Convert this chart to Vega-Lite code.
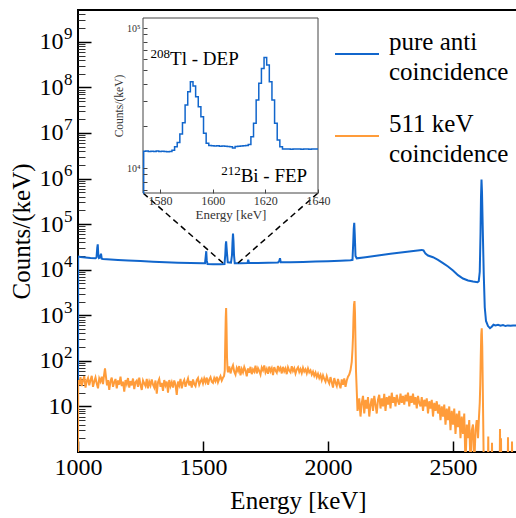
{
  "$schema": "https://vega.github.io/schema/vega-lite/v6.json",
  "width": 440,
  "height": 442,
  "autosize": {"type": "none"},
  "padding": {"left": 78, "top": 10, "right": 0, "bottom": 66},
  "background": "white",
  "config": {
    "font": "Liberation Serif",
    "view": {"stroke": "black", "strokeWidth": 2},
    "style": {"guide-label": {"lineHeight": 30}},
    "axis": {
      "grid": false,
      "domain": false,
      "labelFont": "Liberation Serif",
      "titleFont": "Liberation Serif",
      "labelColor": "black",
      "titleColor": "black",
      "titleFontWeight": "normal",
      "labelOverlap": false,
      "labelFlush": false,
      "tickColor": "black"
    },
    "text": {"font": "Liberation Serif"}
  },
  "datasets": {
    "blue": [
      {"e": 1000, "c": 0.5}, {"e": 1000.5, "c": 19500}, {"e": 1010, "c": 19000}, {"e": 1030, "c": 18500},
      {"e": 1050, "c": 18000}, {"e": 1070, "c": 17800}, {"e": 1074, "c": 18500}, {"e": 1077, "c": 30000},
      {"e": 1079, "c": 36000}, {"e": 1081, "c": 22000}, {"e": 1084, "c": 18000}, {"e": 1088, "c": 18500},
      {"e": 1092, "c": 22500}, {"e": 1095, "c": 17500}, {"e": 1100, "c": 17200}, {"e": 1130, "c": 16700},
      {"e": 1160, "c": 16300}, {"e": 1200, "c": 15900}, {"e": 1250, "c": 15500}, {"e": 1300, "c": 15000},
      {"e": 1350, "c": 14600}, {"e": 1400, "c": 14300}, {"e": 1450, "c": 14000}, {"e": 1500, "c": 13800},
      {"e": 1508, "c": 13800}, {"e": 1511, "c": 20000}, {"e": 1513, "c": 25500}, {"e": 1515, "c": 16000},
      {"e": 1518, "c": 13400}, {"e": 1540, "c": 13200}, {"e": 1570, "c": 13200}, {"e": 1586, "c": 13300},
      {"e": 1589, "c": 21000}, {"e": 1591, "c": 35000}, {"e": 1592.5, "c": 42000}, {"e": 1594, "c": 32000},
      {"e": 1596, "c": 23000}, {"e": 1599, "c": 14500}, {"e": 1612, "c": 14300}, {"e": 1616, "c": 21000},
      {"e": 1618, "c": 40000}, {"e": 1620, "c": 62000}, {"e": 1622, "c": 42000}, {"e": 1624, "c": 21000},
      {"e": 1627, "c": 13900}, {"e": 1650, "c": 13900}, {"e": 1678, "c": 14000}, {"e": 1681, "c": 16500},
      {"e": 1684, "c": 14100}, {"e": 1720, "c": 14100}, {"e": 1760, "c": 14200}, {"e": 1800, "c": 14400},
      {"e": 1805, "c": 15500}, {"e": 1808, "c": 17800}, {"e": 1811, "c": 14500}, {"e": 1850, "c": 14600},
      {"e": 1900, "c": 14800}, {"e": 1950, "c": 15100}, {"e": 2000, "c": 15400}, {"e": 2050, "c": 15800},
      {"e": 2090, "c": 16200}, {"e": 2098, "c": 16500}, {"e": 2101, "c": 40000}, {"e": 2103, "c": 80000},
      {"e": 2105, "c": 107000}, {"e": 2107, "c": 60000}, {"e": 2110, "c": 20000}, {"e": 2115, "c": 17800},
      {"e": 2150, "c": 18800}, {"e": 2200, "c": 20500}, {"e": 2250, "c": 22300}, {"e": 2300, "c": 24200},
      {"e": 2350, "c": 26200}, {"e": 2375, "c": 27200}, {"e": 2382, "c": 26500}, {"e": 2390, "c": 22500},
      {"e": 2400, "c": 20500}, {"e": 2420, "c": 18800}, {"e": 2440, "c": 16500}, {"e": 2460, "c": 14000},
      {"e": 2480, "c": 11800}, {"e": 2500, "c": 9600}, {"e": 2520, "c": 7600}, {"e": 2540, "c": 6400},
      {"e": 2560, "c": 5800}, {"e": 2580, "c": 5500}, {"e": 2598, "c": 5300}, {"e": 2603, "c": 5600},
      {"e": 2607, "c": 9000}, {"e": 2610, "c": 60000}, {"e": 2612, "c": 400000}, {"e": 2614, "c": 950000},
      {"e": 2616, "c": 500000}, {"e": 2619, "c": 80000}, {"e": 2623, "c": 8000}, {"e": 2627, "c": 1500},
      {"e": 2632, "c": 750}, {"e": 2640, "c": 580}, {"e": 2648, "c": 520}, {"e": 2655, "c": 560},
      {"e": 2662, "c": 620}, {"e": 2670, "c": 600}, {"e": 2680, "c": 620}, {"e": 2690, "c": 590},
      {"e": 2700, "c": 610}, {"e": 2710, "c": 580}, {"e": 2720, "c": 600}, {"e": 2730, "c": 590},
      {"e": 2740, "c": 600}, {"e": 2760, "c": 590}
    ],
    "orange": [
      {"e": 1000, "c": 0.5}, {"e": 1000.5, "c": 38}, {"e": 1005, "c": 30}, {"e": 1010, "c": 44}, {"e": 1015, "c": 28},
      {"e": 1020, "c": 37}, {"e": 1025, "c": 46}, {"e": 1030, "c": 26}, {"e": 1035, "c": 36}, {"e": 1040, "c": 42},
      {"e": 1045, "c": 29}, {"e": 1050, "c": 38}, {"e": 1055, "c": 47}, {"e": 1060, "c": 27}, {"e": 1065, "c": 35},
      {"e": 1070, "c": 43}, {"e": 1075, "c": 32}, {"e": 1080, "c": 25}, {"e": 1085, "c": 41}, {"e": 1090, "c": 35},
      {"e": 1095, "c": 45}, {"e": 1100, "c": 31}, {"e": 1104, "c": 48}, {"e": 1108, "c": 68}, {"e": 1112, "c": 44},
      {"e": 1116, "c": 29}, {"e": 1120, "c": 38}, {"e": 1125, "c": 23}, {"e": 1130, "c": 36}, {"e": 1135, "c": 43},
      {"e": 1140, "c": 27}, {"e": 1145, "c": 34}, {"e": 1150, "c": 40}, {"e": 1155, "c": 25}, {"e": 1160, "c": 37},
      {"e": 1165, "c": 30}, {"e": 1170, "c": 45}, {"e": 1175, "c": 28}, {"e": 1180, "c": 35}, {"e": 1185, "c": 21},
      {"e": 1190, "c": 38}, {"e": 1195, "c": 31}, {"e": 1200, "c": 42}, {"e": 1205, "c": 26}, {"e": 1210, "c": 36},
      {"e": 1215, "c": 29}, {"e": 1220, "c": 41}, {"e": 1225, "c": 24}, {"e": 1230, "c": 34}, {"e": 1235, "c": 37},
      {"e": 1240, "c": 27}, {"e": 1245, "c": 43}, {"e": 1250, "c": 30}, {"e": 1255, "c": 23}, {"e": 1260, "c": 37},
      {"e": 1265, "c": 32}, {"e": 1270, "c": 28}, {"e": 1275, "c": 40}, {"e": 1280, "c": 25}, {"e": 1285, "c": 35},
      {"e": 1290, "c": 29}, {"e": 1295, "c": 39}, {"e": 1300, "c": 30}, {"e": 1305, "c": 26}, {"e": 1310, "c": 37},
      {"e": 1315, "c": 19}, {"e": 1320, "c": 34}, {"e": 1325, "c": 40}, {"e": 1330, "c": 27}, {"e": 1335, "c": 33},
      {"e": 1340, "c": 22}, {"e": 1345, "c": 38}, {"e": 1350, "c": 29}, {"e": 1355, "c": 35}, {"e": 1360, "c": 20},
      {"e": 1365, "c": 38}, {"e": 1370, "c": 28}, {"e": 1375, "c": 34}, {"e": 1380, "c": 26}, {"e": 1385, "c": 37},
      {"e": 1390, "c": 30}, {"e": 1395, "c": 18}, {"e": 1400, "c": 35}, {"e": 1405, "c": 29}, {"e": 1410, "c": 40},
      {"e": 1415, "c": 25}, {"e": 1420, "c": 33}, {"e": 1425, "c": 38}, {"e": 1430, "c": 27}, {"e": 1435, "c": 34},
      {"e": 1440, "c": 41}, {"e": 1445, "c": 29}, {"e": 1450, "c": 36}, {"e": 1455, "c": 26}, {"e": 1460, "c": 39},
      {"e": 1465, "c": 31}, {"e": 1470, "c": 28}, {"e": 1475, "c": 38}, {"e": 1480, "c": 42}, {"e": 1485, "c": 30},
      {"e": 1490, "c": 35}, {"e": 1495, "c": 40}, {"e": 1500, "c": 32}, {"e": 1505, "c": 41}, {"e": 1510, "c": 34},
      {"e": 1515, "c": 43}, {"e": 1520, "c": 30}, {"e": 1525, "c": 39}, {"e": 1530, "c": 44}, {"e": 1535, "c": 35},
      {"e": 1540, "c": 33}, {"e": 1545, "c": 42}, {"e": 1550, "c": 36}, {"e": 1555, "c": 45}, {"e": 1560, "c": 34},
      {"e": 1565, "c": 40}, {"e": 1570, "c": 46}, {"e": 1575, "c": 37}, {"e": 1580, "c": 43}, {"e": 1584, "c": 46},
      {"e": 1587, "c": 60}, {"e": 1589, "c": 250}, {"e": 1591, "c": 900}, {"e": 1592.5, "c": 1450}, {"e": 1594, "c": 600},
      {"e": 1596, "c": 120}, {"e": 1598, "c": 66}, {"e": 1600, "c": 56}, {"e": 1605, "c": 75}, {"e": 1610, "c": 53},
      {"e": 1615, "c": 68}, {"e": 1620, "c": 80}, {"e": 1625, "c": 58}, {"e": 1630, "c": 50}, {"e": 1635, "c": 70},
      {"e": 1640, "c": 60}, {"e": 1645, "c": 77}, {"e": 1650, "c": 48}, {"e": 1655, "c": 66}, {"e": 1660, "c": 56},
      {"e": 1665, "c": 73}, {"e": 1670, "c": 61}, {"e": 1675, "c": 46}, {"e": 1680, "c": 68}, {"e": 1685, "c": 55},
      {"e": 1690, "c": 74}, {"e": 1695, "c": 51}, {"e": 1700, "c": 65}, {"e": 1705, "c": 58}, {"e": 1710, "c": 78},
      {"e": 1715, "c": 53}, {"e": 1720, "c": 69}, {"e": 1725, "c": 60}, {"e": 1730, "c": 50}, {"e": 1735, "c": 71},
      {"e": 1740, "c": 62}, {"e": 1745, "c": 79}, {"e": 1750, "c": 56}, {"e": 1755, "c": 66}, {"e": 1760, "c": 52},
      {"e": 1765, "c": 75}, {"e": 1770, "c": 59}, {"e": 1775, "c": 69}, {"e": 1780, "c": 49}, {"e": 1785, "c": 73},
      {"e": 1790, "c": 61}, {"e": 1795, "c": 55}, {"e": 1800, "c": 77}, {"e": 1805, "c": 62}, {"e": 1810, "c": 70},
      {"e": 1815, "c": 53}, {"e": 1820, "c": 74}, {"e": 1825, "c": 59}, {"e": 1830, "c": 68}, {"e": 1835, "c": 51},
      {"e": 1840, "c": 72}, {"e": 1845, "c": 61}, {"e": 1850, "c": 56}, {"e": 1855, "c": 76}, {"e": 1860, "c": 60},
      {"e": 1865, "c": 69}, {"e": 1870, "c": 53}, {"e": 1875, "c": 65}, {"e": 1880, "c": 72}, {"e": 1885, "c": 57},
      {"e": 1890, "c": 66}, {"e": 1895, "c": 54}, {"e": 1900, "c": 70}, {"e": 1905, "c": 58}, {"e": 1910, "c": 65},
      {"e": 1915, "c": 53}, {"e": 1920, "c": 68}, {"e": 1925, "c": 56}, {"e": 1930, "c": 62}, {"e": 1935, "c": 50},
      {"e": 1940, "c": 58}, {"e": 1945, "c": 47}, {"e": 1950, "c": 55}, {"e": 1955, "c": 44}, {"e": 1960, "c": 52},
      {"e": 1965, "c": 42}, {"e": 1970, "c": 49}, {"e": 1975, "c": 38}, {"e": 1980, "c": 48}, {"e": 1985, "c": 40},
      {"e": 1990, "c": 35}, {"e": 1995, "c": 46}, {"e": 2000, "c": 37}, {"e": 2005, "c": 32}, {"e": 2010, "c": 44},
      {"e": 2015, "c": 34}, {"e": 2020, "c": 26}, {"e": 2025, "c": 42}, {"e": 2030, "c": 33}, {"e": 2035, "c": 28},
      {"e": 2040, "c": 40}, {"e": 2045, "c": 31}, {"e": 2050, "c": 25}, {"e": 2055, "c": 39}, {"e": 2060, "c": 30},
      {"e": 2065, "c": 41}, {"e": 2070, "c": 27}, {"e": 2075, "c": 37}, {"e": 2080, "c": 45}, {"e": 2085, "c": 50},
      {"e": 2090, "c": 62}, {"e": 2095, "c": 95}, {"e": 2098, "c": 180}, {"e": 2100, "c": 330}, {"e": 2102, "c": 900},
      {"e": 2104, "c": 1700}, {"e": 2106, "c": 2050}, {"e": 2108, "c": 1100}, {"e": 2110, "c": 250}, {"e": 2112, "c": 60},
      {"e": 2115, "c": 22}, {"e": 2118, "c": 8}, {"e": 2120, "c": 9}, {"e": 2125, "c": 15}, {"e": 2130, "c": 6},
      {"e": 2135, "c": 12}, {"e": 2140, "c": 17}, {"e": 2145, "c": 7}, {"e": 2150, "c": 14}, {"e": 2155, "c": 9},
      {"e": 2160, "c": 16}, {"e": 2165, "c": 6}, {"e": 2170, "c": 11}, {"e": 2175, "c": 15}, {"e": 2180, "c": 8},
      {"e": 2185, "c": 17}, {"e": 2190, "c": 11}, {"e": 2195, "c": 7}, {"e": 2200, "c": 14}, {"e": 2205, "c": 18},
      {"e": 2210, "c": 9}, {"e": 2215, "c": 15}, {"e": 2220, "c": 10}, {"e": 2225, "c": 19}, {"e": 2230, "c": 8},
      {"e": 2235, "c": 16}, {"e": 2240, "c": 11}, {"e": 2245, "c": 17}, {"e": 2250, "c": 9}, {"e": 2255, "c": 20},
      {"e": 2260, "c": 12}, {"e": 2265, "c": 16}, {"e": 2270, "c": 10}, {"e": 2275, "c": 18}, {"e": 2280, "c": 13},
      {"e": 2285, "c": 11}, {"e": 2290, "c": 19}, {"e": 2295, "c": 12}, {"e": 2300, "c": 17}, {"e": 2305, "c": 11},
      {"e": 2310, "c": 18}, {"e": 2315, "c": 13}, {"e": 2320, "c": 20}, {"e": 2325, "c": 10}, {"e": 2330, "c": 17},
      {"e": 2335, "c": 12}, {"e": 2340, "c": 19}, {"e": 2345, "c": 11}, {"e": 2350, "c": 16}, {"e": 2355, "c": 9},
      {"e": 2360, "c": 17}, {"e": 2365, "c": 12}, {"e": 2370, "c": 10}, {"e": 2375, "c": 16}, {"e": 2380, "c": 8},
      {"e": 2385, "c": 14}, {"e": 2390, "c": 10}, {"e": 2395, "c": 15}, {"e": 2400, "c": 7}, {"e": 2405, "c": 13},
      {"e": 2410, "c": 9}, {"e": 2415, "c": 14}, {"e": 2420, "c": 6}, {"e": 2425, "c": 12}, {"e": 2430, "c": 8},
      {"e": 2435, "c": 13}, {"e": 2440, "c": 7}, {"e": 2445, "c": 11}, {"e": 2450, "c": 5}, {"e": 2455, "c": 10},
      {"e": 2460, "c": 6}, {"e": 2465, "c": 11}, {"e": 2470, "c": 4}, {"e": 2475, "c": 9}, {"e": 2480, "c": 5},
      {"e": 2485, "c": 10}, {"e": 2490, "c": 3}, {"e": 2495, "c": 8}, {"e": 2500, "c": 4}, {"e": 2505, "c": 9},
      {"e": 2510, "c": 2.5}, {"e": 2515, "c": 7}, {"e": 2520, "c": 3.5}, {"e": 2525, "c": 8}, {"e": 2530, "c": 2},
      {"e": 2535, "c": 6}, {"e": 2540, "c": 2.5}, {"e": 2545, "c": 7}, {"e": 2550, "c": 0.5}, {"e": 2555, "c": 4},
      {"e": 2560, "c": 2}, {"e": 2565, "c": 5}, {"e": 2570, "c": 0.5}, {"e": 2575, "c": 3}, {"e": 2580, "c": 4},
      {"e": 2585, "c": 0.5}, {"e": 2590, "c": 3}, {"e": 2595, "c": 5}, {"e": 2600, "c": 2}, {"e": 2604, "c": 6},
      {"e": 2607, "c": 12}, {"e": 2609, "c": 30}, {"e": 2611, "c": 120}, {"e": 2613, "c": 380}, {"e": 2615, "c": 520},
      {"e": 2617, "c": 200}, {"e": 2619, "c": 30}, {"e": 2621, "c": 4}, {"e": 2623, "c": 0.5}, {"e": 2640, "c": 0.5},
      {"e": 2641, "c": 2.2}, {"e": 2642, "c": 0.5}, {"e": 2655, "c": 0.5}, {"e": 2656, "c": 1.6}, {"e": 2657, "c": 0.5},
      {"e": 2687, "c": 0.5}, {"e": 2688, "c": 3.2}, {"e": 2689, "c": 0.5}, {"e": 2691, "c": 0.5}, {"e": 2692, "c": 2},
      {"e": 2693, "c": 0.5}, {"e": 2719, "c": 0.5}, {"e": 2720, "c": 2.1}, {"e": 2721, "c": 0.5}, {"e": 2735, "c": 0.5},
      {"e": 2736, "c": 1.7}, {"e": 2737, "c": 0.5}, {"e": 2760, "c": 0.5}
    ],
    "inset": [
      {"e": 1573.5, "c": 6630}, {"e": 1574, "c": 13200}, {"e": 1575, "c": 13250}, {"e": 1576, "c": 13150},
      {"e": 1577, "c": 13200}, {"e": 1578, "c": 13100}, {"e": 1579, "c": 13250}, {"e": 1580, "c": 13150},
      {"e": 1581, "c": 13200}, {"e": 1582, "c": 13100}, {"e": 1583, "c": 13050}, {"e": 1584, "c": 13150},
      {"e": 1585, "c": 13400}, {"e": 1586, "c": 14200}, {"e": 1587, "c": 15200}, {"e": 1588, "c": 17500},
      {"e": 1589, "c": 21100}, {"e": 1590, "c": 28200}, {"e": 1591, "c": 35100}, {"e": 1592, "c": 41400},
      {"e": 1593, "c": 38500}, {"e": 1594, "c": 32300}, {"e": 1595, "c": 27400}, {"e": 1596, "c": 23200},
      {"e": 1597, "c": 17700}, {"e": 1598, "c": 15000}, {"e": 1599, "c": 14500}, {"e": 1600, "c": 14400},
      {"e": 1601, "c": 14350}, {"e": 1602, "c": 14400}, {"e": 1603, "c": 14300}, {"e": 1604, "c": 14350},
      {"e": 1605, "c": 14300}, {"e": 1606, "c": 14250}, {"e": 1607, "c": 14200}, {"e": 1608, "c": 13900},
      {"e": 1609, "c": 14250}, {"e": 1610, "c": 14300}, {"e": 1611, "c": 14350}, {"e": 1612, "c": 14400},
      {"e": 1613, "c": 14500}, {"e": 1614, "c": 14700}, {"e": 1615, "c": 16700}, {"e": 1616, "c": 20900},
      {"e": 1617, "c": 30600}, {"e": 1618, "c": 40300}, {"e": 1619, "c": 51500}, {"e": 1620, "c": 61700},
      {"e": 1621, "c": 54400}, {"e": 1622, "c": 41400}, {"e": 1623, "c": 30600}, {"e": 1624, "c": 20900},
      {"e": 1625, "c": 15850}, {"e": 1626, "c": 14200}, {"e": 1627, "c": 13700}, {"e": 1628, "c": 13650},
      {"e": 1629, "c": 13700}, {"e": 1630, "c": 13600}, {"e": 1631, "c": 13650}, {"e": 1632, "c": 13700},
      {"e": 1633, "c": 13650}, {"e": 1634, "c": 13600}, {"e": 1635, "c": 13700}, {"e": 1636, "c": 13650},
      {"e": 1637, "c": 13600}, {"e": 1638, "c": 13650}, {"e": 1639, "c": 13700}, {"e": 1640, "c": 13650}
    ],
    "guides": [
      {"e": 1580, "c": 14000, "e2": 1260, "c2": 482000},
      {"e": 1640, "c": 14000, "e2": 1960, "c2": 482000}
    ],
    "frame": [{"e": 1573.5, "e2": 1640, "c": 6630, "c2": 118000}],
    "notes": [
      {"e": 1583.8, "c": 54500, "main": "Tl - DEP", "sup": "208"},
      {"e": 1610.6, "c": 7980, "main": "Bi - FEP", "sup": "212"}
    ]
  },
  "layer": [
    {
      "layer": [
        {
          "data": {"name": "blue"},
          "mark": {"type": "line", "clip": true, "strokeWidth": 2},
          "encoding": {
            "x": {
              "field": "e", "type": "quantitative",
              "scale": {"domain": [1000, 2760], "nice": false, "zero": false},
              "axis": {
                "values": [1000, 1500, 2000, 2500], "format": "d",
                "tickSize": -11, "tickWidth": 1.5,
                "labelFontSize": 24, "labelPadding": 14,
                "title": "Energy [keV]", "titleFontSize": 25, "titlePadding": 9
              }
            },
            "y": {
              "field": "c", "type": "quantitative",
              "scale": {"type": "log", "domain": [1, 5000000000], "nice": false},
              "axis": {
                "orient": "left",
                "values": [10, 100, 1000, 10000, 100000, 1000000, 10000000, 100000000, 1000000000],
                "labelExpr": "datum.value < 50 ? '' : '10'",
                "tickSize": -13, "tickWidth": 1.5,
                "labelFontSize": 24, "labelPadding": 28,
                "title": "Counts/(keV)", "titleFontSize": 25, "titlePadding": 5
              }
            },
            "color": {
              "datum": "pure anti coincidence",
              "scale": {"domain": ["pure anti coincidence", "511 keV coincidence"], "range": ["#1166cc", "#ff9c3a"]},
              "legend": {
                "orient": "none", "legendX": 256, "legendY": 21, "title": null,
                "padding": 0, "symbolType": "stroke", "symbolSize": 1936, "symbolStrokeWidth": 2,
                "labelFont": "Liberation Serif", "labelFontSize": 25, "labelColor": "black",
                "labelOffset": 9, "labelLimit": 400, "rowPadding": 27,
                "labelExpr": "datum.label == 'pure anti coincidence' ? ['pure anti', 'coincidence'] : ['511 keV', 'coincidence']",
                "encode": {"labels": {"update": {"dy": {"value": -12}}}}
              }
            }
          }
        },
        {
          "data": {"name": "orange"},
          "mark": {"type": "line", "clip": true, "strokeWidth": 2},
          "encoding": {
            "x": {"field": "e", "type": "quantitative"},
            "y": {"field": "c", "type": "quantitative"},
            "color": {"datum": "511 keV coincidence"}
          }
        },
        {
          "data": {"name": "guides"},
          "mark": {"type": "rule", "color": "black", "strokeWidth": 1.5, "strokeDash": [6, 4]},
          "encoding": {
            "x": {"field": "e", "type": "quantitative"},
            "y": {"field": "c", "type": "quantitative"},
            "x2": {"field": "e2"},
            "y2": {"field": "c2"}
          }
        }
      ]
    },
    {
      "data": {"values": [{"c": 1}, {"c": 5000000000}]},
      "mark": {"type": "point", "opacity": 0},
      "encoding": {
        "y": {
          "field": "c", "type": "quantitative",
          "scale": {"type": "log", "domain": [1, 5000000000], "nice": false},
          "axis": {
            "orient": "left", "title": null, "labels": false, "tickSize": -7, "tickWidth": 1, "tickColor": "#333",
            "values": [2, 3, 4, 5, 6, 7, 8, 9, 20, 30, 40, 50, 60, 70, 80, 90,
              200, 300, 400, 500, 600, 700, 800, 900, 2000, 3000, 4000, 5000, 6000, 7000, 8000, 9000,
              20000, 30000, 40000, 50000, 60000, 70000, 80000, 90000,
              200000, 300000, 400000, 500000, 600000, 700000, 800000, 900000,
              2000000, 3000000, 4000000, 5000000, 6000000, 7000000, 8000000, 9000000,
              20000000, 30000000, 40000000, 50000000, 60000000, 70000000, 80000000, 90000000,
              200000000, 300000000, 400000000, 500000000, 600000000, 700000000, 800000000, 900000000,
              2000000000, 3000000000, 4000000000]
          }
        }
      }
    },
    {
      "data": {"values": [{"c": 1}, {"c": 5000000000}]},
      "mark": {"type": "point", "opacity": 0},
      "encoding": {
        "y": {
          "field": "c", "type": "quantitative",
          "scale": {"type": "log", "domain": [1, 5000000000], "nice": false},
          "axis": {
            "orient": "left", "title": null, "ticks": false,
            "values": [100, 1000, 10000, 100000, 1000000, 10000000, 100000000, 1000000000],
            "labelExpr": "'' + round(log(datum.value) / LN10)",
            "labelFontSize": 17, "labelPadding": 6, "labelOffset": -8
          }
        }
      }
    },
    {
      "data": {"values": [{"c": 1}, {"c": 5000000000}]},
      "mark": {"type": "point", "opacity": 0},
      "encoding": {
        "y": {
          "field": "c", "type": "quantitative",
          "scale": {"type": "log", "domain": [1, 5000000000], "nice": false},
          "axis": {
            "orient": "left", "title": null, "ticks": false,
            "values": [10], "labelExpr": "'10'",
            "labelFontSize": 24, "labelPadding": 6
          }
        }
      }
    },
    {
      "layer": [
        {
          "data": {"name": "frame"},
          "mark": {"type": "rect", "fill": "white", "stroke": "#444", "strokeWidth": 1},
          "encoding": {
            "x": {
              "field": "e", "type": "quantitative",
              "scale": {"domain": [1573.5, 1640], "range": [65, 240], "nice": false, "zero": false},
              "axis": {
                "orient": "bottom", "offset": -259, "zindex": 1,
                "values": [1580, 1600, 1620, 1640], "format": "d",
                "tickSize": -4, "tickColor": "#444",
                "labelFontSize": 12, "labelColor": "#333", "labelPadding": 6,
                "title": "Energy [keV]", "titleFontSize": 13, "titleColor": "#333", "titlePadding": 2
              }
            },
            "x2": {"field": "e2"},
            "y": {
              "field": "c", "type": "quantitative",
              "scale": {"type": "log", "domain": [6630, 118000], "range": [183, 8], "nice": false},
              "axis": {
                "orient": "left", "offset": -65, "zindex": 1,
                "values": [7000, 8000, 9000, 10000, 20000, 30000, 40000, 50000, 60000, 70000, 80000, 90000, 100000],
                "labelExpr": "datum.value == 100000 ? '10⁵' : datum.value == 10000 ? '10⁴' : ''",
                "tickSize": -4, "tickColor": "#444",
                "labelFontSize": 10, "labelColor": "#333", "labelPadding": 7,
                "title": "Counts/(keV)", "titleFontSize": 11.5, "titleColor": "#333", "titlePadding": 2
              }
            },
            "y2": {"field": "c2"}
          }
        },
        {
          "data": {"name": "inset"},
          "mark": {"type": "line", "interpolate": "step", "strokeWidth": 1.5, "color": "#1166cc"},
          "encoding": {
            "x": {"field": "e", "type": "quantitative"},
            "y": {"field": "c", "type": "quantitative"}
          }
        },
        {
          "data": {"name": "notes"},
          "mark": {"type": "text", "align": "left", "baseline": "alphabetic", "fontSize": 19, "color": "black"},
          "encoding": {
            "x": {"field": "e", "type": "quantitative"},
            "y": {"field": "c", "type": "quantitative"},
            "text": {"field": "main"}
          }
        },
        {
          "data": {"name": "notes"},
          "mark": {"type": "text", "align": "right", "baseline": "alphabetic", "fontSize": 13, "dy": -7, "color": "black"},
          "encoding": {
            "x": {"field": "e", "type": "quantitative"},
            "y": {"field": "c", "type": "quantitative"},
            "text": {"field": "sup"}
          }
        }
      ]
    }
  ],
  "resolve": {"scale": {"x": "independent", "y": "independent"}}
}
